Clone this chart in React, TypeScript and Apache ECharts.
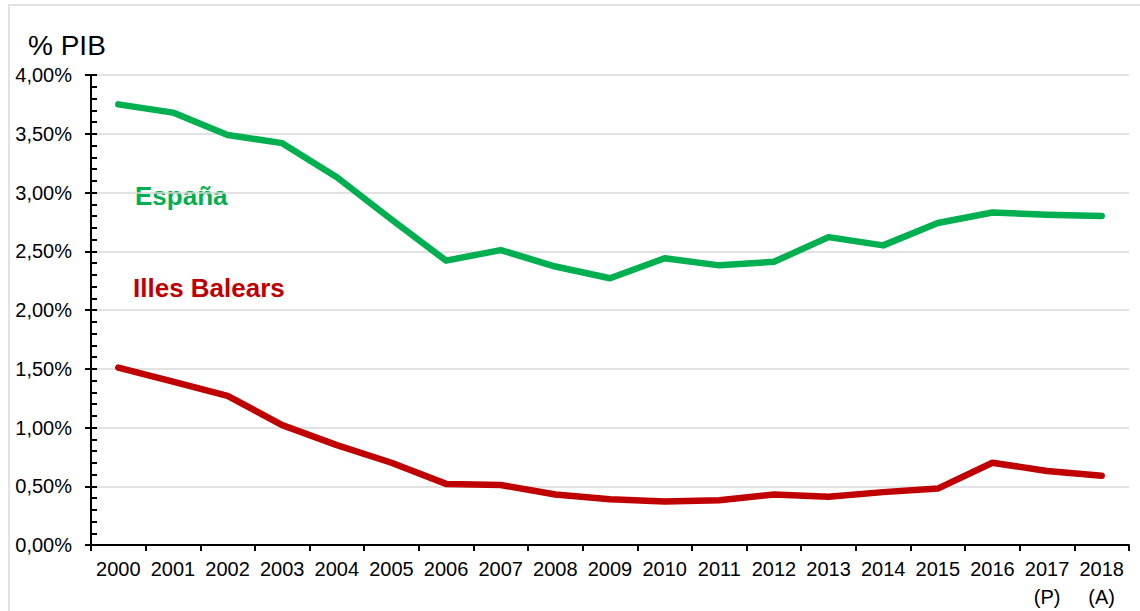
import React, { useEffect, useRef } from "react";
import * as echarts from "echarts";

const years = ["2000","2001","2002","2003","2004","2005","2006","2007","2008","2009","2010","2011","2012","2013","2014","2015","2016","2017\n(P)","2018\n(A)"];
const espana = [3.75,3.68,3.49,3.42,3.13,2.77,2.42,2.51,2.37,2.27,2.44,2.38,2.41,2.62,2.55,2.74,2.83,2.81,2.80];
const balears = [1.51,1.39,1.27,1.02,0.85,0.70,0.52,0.51,0.43,0.39,0.37,0.38,0.43,0.41,0.45,0.48,0.70,0.63,0.59];

const GREEN = "#00b050";
const RED = "#c00000";
const FONT = "Liberation Sans, Arial, sans-serif";

export default function App() {
  const ref = useRef<HTMLDivElement>(null);
  useEffect(() => {
    const chart = echarts.init(ref.current!, null, { renderer: "svg" });
    const fmt = (v: number) => v.toFixed(2).replace(".", ",") + "%";
    chart.setOption({
      animation: false,
      textStyle: { fontFamily: FONT },
      grid: { left: 91, right: 11, top: 75, bottom: 63 },
      graphic: [
        { type: "rect", shape: { x: 9, y: 5, width: 1160, height: 640 }, style: { fill: "none", stroke: "#d9d9d9", lineWidth: 1.5 }, z: -10 },
        { type: "text", x: 28, y: 45, style: { text: "% PIB", font: "28px " + FONT, fill: "#000", verticalAlign: "middle" } },
        { type: "text", x: 135, y: 196, style: { text: "España", font: "bold 26px " + FONT, fill: GREEN, verticalAlign: "middle" } },
        { type: "text", x: 133, y: 288, style: { text: "Illes Balears", font: "bold 26px " + FONT, fill: RED, verticalAlign: "middle" } },
      ],
      xAxis: {
        type: "category",
        data: years,
        boundaryGap: true,
        axisLine: { lineStyle: { color: "#000", width: 2 } },
        axisTick: { show: true, length: 6, lineStyle: { color: "#000", width: 2 }, interval: 0 },
        axisLabel: { color: "#000", fontSize: 20, margin: 10, lineHeight: 28, interval: 0 },
      },
      yAxis: [
        {
          type: "value",
          min: 0,
          max: 4,
          interval: 0.5,
          axisLine: { show: true, lineStyle: { color: "#000", width: 2 } },
          axisTick: { show: true, length: 6, lineStyle: { color: "#000", width: 2 } },
          axisLabel: { color: "#000", fontSize: 20, margin: 19, formatter: fmt },
          splitLine: { show: true, lineStyle: { color: "#d9d9d9", width: 1.5 } },
        },
        {
          type: "value",
          position: "left",
          min: 0,
          max: 4,
          interval: 0.5,
          axisLine: { show: false },
          axisTick: { show: true, inside: true, length: 6, lineStyle: { color: "#000", width: 2 } },
          minorTick: { show: true, splitNumber: 5, length: 6, lineStyle: { color: "#000", width: 2 } },
          axisLabel: { show: false },
          splitLine: { show: false },
        },
      ],
      series: [
        { name: "España", type: "line", data: espana, symbol: "none", lineStyle: { color: GREEN, width: 6.5, cap: "round", join: "round" }, itemStyle: { color: GREEN } },
        { name: "Illes Balears", type: "line", data: balears, symbol: "none", lineStyle: { color: RED, width: 6.5, cap: "round", join: "round" }, itemStyle: { color: RED } },
      ],
    });
    return () => chart.dispose();
  }, []);
  return <div ref={ref} style={{ position: "fixed", left: 0, top: 0, width: 1140, height: 611, background: "#fff" }} />;
}
